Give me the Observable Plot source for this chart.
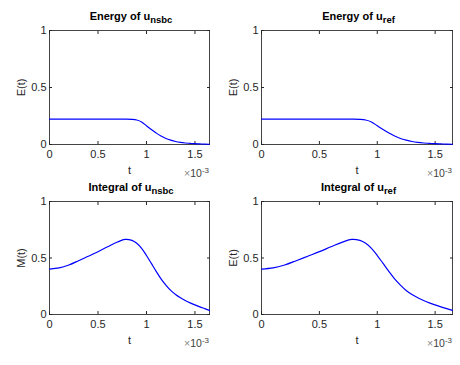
<!DOCTYPE html>
<html><head><meta charset="utf-8">
<script src="https://cdn.jsdelivr.net/npm/d3@7"></script>
<script src="https://cdn.jsdelivr.net/npm/@observablehq/plot@0.6"></script>
<style>
body{margin:0;background:#fff;}
#chart{position:relative;width:460px;height:365px;background:#fff;font-family:"Liberation Sans",Arial,sans-serif;}
.panel{position:absolute;}
.title{position:absolute;font-weight:bold;font-size:11px;line-height:11px;color:#000;white-space:nowrap;transform:translateX(-50%);}
.title sub{font-size:9.5px;vertical-align:-3px;line-height:0;}
.exp{position:absolute;font-size:10.5px;line-height:11px;color:#404040;white-space:nowrap;transform:translateX(-100%);}
.exp .x{color:#888;}
.exp sup{font-size:8px;vertical-align:4px;line-height:0;}
</style></head><body><div id="chart"></div><script>
// time, in units of 10^-3
const tValues = [0, 0.1, 0.2, 0.3, 0.4, 0.5, 0.6, 0.7, 0.78, 0.85, 0.9, 0.95, 1.0, 1.05, 1.1, 1.15, 1.2, 1.25, 1.3, 1.35, 1.4, 1.45, 1.5, 1.55, 1.6, 1.65];
const energyNsbc = [0.223, 0.223, 0.223, 0.223, 0.223, 0.223, 0.223, 0.223, 0.223, 0.221, 0.215, 0.198, 0.164, 0.131, 0.101, 0.074, 0.053, 0.038, 0.026, 0.018, 0.013, 0.010, 0.007, 0.005, 0.003, 0.002];
const energyRef  = [0.223, 0.223, 0.223, 0.223, 0.223, 0.223, 0.223, 0.223, 0.223, 0.221, 0.215, 0.198, 0.164, 0.131, 0.101, 0.074, 0.053, 0.038, 0.026, 0.018, 0.013, 0.010, 0.007, 0.005, 0.003, 0.002];
const integralNsbc = [0.402, 0.412, 0.438, 0.476, 0.516, 0.556, 0.599, 0.641, 0.665, 0.656, 0.630, 0.585, 0.522, 0.452, 0.382, 0.315, 0.260, 0.213, 0.177, 0.148, 0.124, 0.103, 0.085, 0.068, 0.052, 0.036];
const integralRef  = [0.402, 0.412, 0.438, 0.476, 0.516, 0.556, 0.599, 0.641, 0.665, 0.656, 0.630, 0.585, 0.522, 0.452, 0.382, 0.315, 0.260, 0.213, 0.177, 0.148, 0.124, 0.103, 0.085, 0.068, 0.052, 0.036];
const xTicks = [0, 0.5, 1, 1.5];
const xTickLabels = ["0", "0.5", "1", "1.5"];
const yTicks = [0, 0.5, 1];
const yTickLabels = ["0", "0.5", "1"];
const titles = [["Energy of u", "nsbc"], ["Energy of u", "ref"], ["Integral of u", "nsbc"], ["Integral of u", "ref"]];
const yLabels = ["E(t)", "E(t)", "M(t)", "E(t)"];
const xLabel = "t";
const series = [energyNsbc, energyRef, integralNsbc, integralRef];

const chart = document.getElementById("chart");
const layouts = [
  {left: 0,   top: 0,   width: 230, height: 180, mL: 49, mR: 21, mT: 30, mB: 36},
  {left: 230, top: 0,   width: 230, height: 180, mL: 31, mR: 8,  mT: 30, mB: 36},
  {left: 0,   top: 180, width: 230, height: 170, mL: 49, mR: 21, mT: 21, mB: 36},
  {left: 230, top: 180, width: 230, height: 170, mL: 31, mR: 8,  mT: 21, mB: 36}
];

layouts.forEach((L, k) => {
  const data = tValues.map((t, i) => ({t, v: series[k][i]}));
  const svg = Plot.plot({
    width: L.width, height: L.height,
    marginLeft: L.mL, marginRight: L.mR, marginTop: L.mT, marginBottom: L.mB,
    style: {fontFamily: "Liberation Sans, Arial, sans-serif", fontSize: "10.5px", color: "#262626", background: "transparent", overflow: "visible"},
    x: {domain: [0, 1.65]},
    y: {domain: [0, 1]},
    marks: [
      Plot.frame({stroke: "#444", strokeWidth: 1}),
      Plot.axisX(xTicks, {anchor: "bottom", tickSize: -3, tickPadding: 9, tickFormat: d => xTickLabels[xTicks.indexOf(d)], label: xLabel, labelAnchor: "center", labelOffset: 29, labelArrow: "none", fontSize: 11}),
      Plot.axisX(xTicks, {anchor: "top", tickSize: -3, fill: "none", label: null}),
      Plot.axisY(yTicks, {anchor: "left", tickSize: -3, tickPadding: 6, tickFormat: d => yTickLabels[yTicks.indexOf(d)], label: yLabels[k], labelAnchor: "center", labelOffset: 32, labelArrow: "none", fontSize: 11}),
      Plot.axisY(yTicks, {anchor: "right", tickSize: -3, fill: "none", label: null}),
      Plot.line(data, {x: "t", y: "v", stroke: "#0000ff", strokeWidth: 1.2, curve: "catmull-rom"})
    ]
  });
  svg.classList.add("panel");
  svg.style.left = L.left + "px";
  svg.style.top = L.top + "px";
  chart.appendChild(svg);

  const boxL = L.left + L.mL, boxR = L.left + L.width - L.mR;
  const title = document.createElement("div");
  title.className = "title";
  title.innerHTML = `${titles[k][0]}<sub>${titles[k][1]}</sub>`;
  title.style.left = ((boxL + boxR) / 2 + 2) + "px";
  title.style.top = (L.top + L.mT - 19) + "px";
  chart.appendChild(title);

  const exp = document.createElement("div");
  exp.className = "exp";
  exp.innerHTML = `<span class="x">×</span>10<sup>-3</sup>`;
  exp.style.left = boxR + "px";
  exp.style.top = (L.top + L.height - L.mB + 24) + "px";
  chart.appendChild(exp);
});
</script></body></html>
